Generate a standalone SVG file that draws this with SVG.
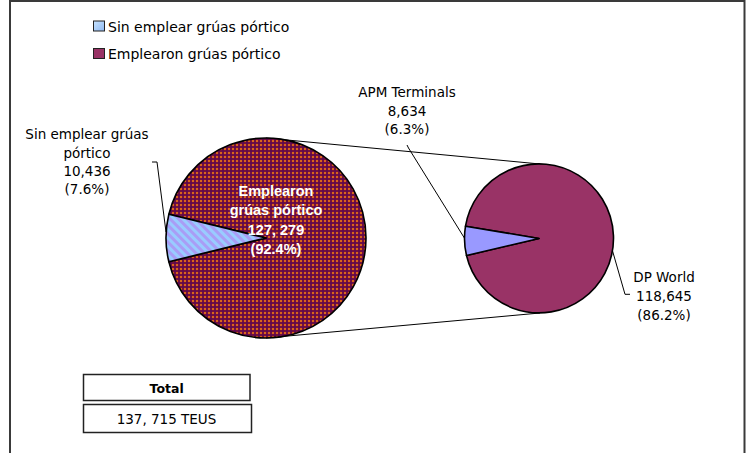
<svg xmlns="http://www.w3.org/2000/svg" width="750" height="453" viewBox="0 0 750 453">
<style>
.t{font-family:"DejaVu Sans",Verdana,sans-serif;font-size:13.5px;fill:#000;text-anchor:middle}
.lg{font-family:"DejaVu Sans",Verdana,sans-serif;font-size:14px;fill:#000}
.w{font-family:"Liberation Sans",Arial,sans-serif;font-size:14.5px;font-weight:bold;fill:#fff;text-anchor:middle}
.b{font-family:"DejaVu Sans",Verdana,sans-serif;font-size:12.5px;font-weight:bold;fill:#000;text-anchor:middle}
.ln{fill:none;stroke:#000;stroke-width:1}
.sl{stroke:#000;stroke-width:1.6;stroke-linejoin:round}
.box{fill:#fff;stroke:#222;stroke-width:1.5}
</style>
<defs>
<pattern id="chk" width="4" height="4" patternUnits="userSpaceOnUse">
<rect width="4" height="4" fill="#74103e"/>
<rect x="0" y="0" width="2" height="2" fill="#d8641c"/>
<rect x="2" y="2" width="2" height="2" fill="#5e0a50"/>
</pattern>
<pattern id="str" width="6" height="6" patternUnits="userSpaceOnUse" patternTransform="rotate(-45)">
<rect width="6" height="6" fill="#99ccff"/>
<rect width="3" height="6" fill="#a99df5"/>
</pattern>
<linearGradient id="lgb" x1="0" y1="0" x2="1" y2="1">
<stop offset="0" stop-color="#c8e4ff"/>
<stop offset="1" stop-color="#8fb8f0"/>
</linearGradient>
</defs>
<rect width="750" height="453" fill="#fff"/>
<g id="frame">
<path d="M10,453 V1 H744.5 V453" fill="none" stroke="#3a3a3a" stroke-width="2"/>
</g>
<g id="legend">
<rect x="93.5" y="21" width="11" height="10" fill="url(#lgb)" stroke="#222" stroke-width="1"/>
<text class="lg" x="108" y="31.5">Sin emplear grúas pórtico</text>
<rect x="93.5" y="48.5" width="11" height="10" fill="#993366" stroke="#222" stroke-width="1"/>
<text class="lg" x="108" y="58.7">Emplearon grúas pórtico</text>
</g>
<g id="connectors">
<path class="ln" d="M266,138 L540,164"/>
<path class="ln" d="M266,338 L540,313"/>
<path class="ln" d="M152,162 H157 L166,232"/>
<path class="ln" d="M407,145 L408.5,148 L465,239"/>
<path class="ln" d="M612,249 L625,294.3 H630"/>
</g>
<g id="pie-left">
<path class="sl" d="M266,238 L168.85,214.3 A100,100 0 1,1 168.85,261.7 Z" fill="url(#chk)"/>
<path class="sl" d="M266,238 L168.85,214.3 A100,100 0 0,0 168.85,261.7 Z" fill="url(#str)"/>
<text class="w" x="276" y="196">Emplearon</text>
<text class="w" x="276" y="215">grúas pórtico</text>
<text class="w" x="276" y="234.5">127, 279</text>
<text class="w" x="276" y="253.5">(92.4%)</text>
</g>
<g id="pie-right">
<path class="sl" d="M539,238.5 L465.5,226.2 A74.5,74.5 0 1,1 466.5,255.5 Z" fill="#993366"/>
<path class="sl" d="M539,238.5 L465.5,226.2 A74.5,74.5 0 0,0 466.5,255.5 Z" fill="#9999ff"/>
</g>
<g id="label-sin">
<text class="t" x="87" y="139.3">Sin emplear grúas</text>
<text class="t" x="87" y="157.7">pórtico</text>
<text class="t" x="87" y="176">10,436</text>
<text class="t" x="87" y="194.3">(7.6%)</text>
</g>
<g id="label-apm">
<text class="t" x="407" y="97">APM Terminals</text>
<text class="t" x="407" y="115.5">8,634</text>
<text class="t" x="407" y="134">(6.3%)</text>
</g>
<g id="label-dp">
<text class="t" x="664" y="282">DP World</text>
<text class="t" x="664" y="301">118,645</text>
<text class="t" x="664" y="320">(86.2%)</text>
</g>
<g id="total">
<rect class="box" x="83.5" y="374.5" width="166.5" height="26"/>
<text class="b" x="166.7" y="393.3">Total</text>
<rect class="box" x="83.5" y="404.5" width="168" height="28"/>
<text class="t" x="166.5" y="424">137, 715 TEUS</text>
</g>
</svg>
